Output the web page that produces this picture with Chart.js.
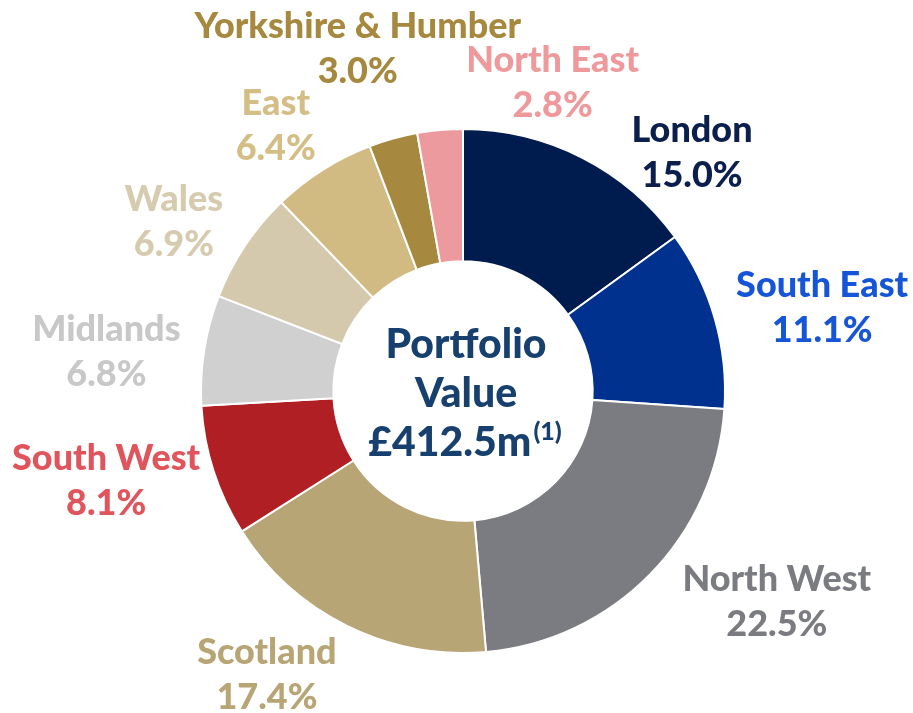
<!DOCTYPE html>
<html>
<head>
<meta charset="utf-8">
<script src="https://cdn.jsdelivr.net/npm/chart.js@4.4.1/dist/chart.umd.min.js"></script>
<style>
  body { margin: 0; background: #fff; }
</style>
</head>
<body>
<canvas id="regionChart" width="913" height="713"></canvas>
<script>
const regions = ["London", "South East", "North West", "Scotland", "South West", "Midlands", "Wales", "East", "Yorkshire & Humber", "North East"];
const shares = [15.0, 11.1, 22.5, 17.4, 8.1, 6.8, 6.9, 6.4, 3.0, 2.8];
const sliceColors = ["#001c4e", "#00318e", "#7b7c81", "#b8a575", "#b01f24", "#d0d0d0", "#d4c9ac", "#d2bb82", "#a6893f", "#ec9a9d"];
const labelColors = ["#0b1f4d", "#1655d8", "#7b7c81", "#b8a575", "#e0545c", "#c8c8c8", "#d6cbae", "#d4be85", "#a6893f", "#ee9a9d"];
const centerLines = ["Portfolio", "Value", "£412.5m"];
const centerNote = "(1)";

// nudges for the outside labels, relative to the slice mid-angle position
const labelNudge = [[67, 79], [16, 15], [59, -40], [-38, -37], [-17, -20], [-4, 16], [8, 28], [4, 36], [-10, 1], [121, 47]];
const FONT = "Lato, 'Noto Sans', sans-serif";

const outsideLabels = {
  id: "outsideLabels",
  afterDraw(chart) {
    const ctx = chart.ctx;
    const meta = chart.getDatasetMeta(0);
    ctx.save();
    ctx.textAlign = "center";
    ctx.textBaseline = "middle";
    ctx.font = "900 36px " + FONT;
    meta.data.forEach((arc, i) => {
      const p = arc.getProps(["x", "y", "startAngle", "endAngle", "outerRadius"], true);
      const mid = (p.startAngle + p.endAngle) / 2;
      const r = p.outerRadius + 95;
      const x = p.x + Math.cos(mid) * r + labelNudge[i][0];
      const y = p.y + Math.sin(mid) * r + labelNudge[i][1];
      ctx.fillStyle = labelColors[i];
      ctx.fillText(regions[i], x, y - 22);
      ctx.fillText(shares[i].toFixed(1) + "%", x, y + 23);
    });

    // centre text
    const c = meta.data[0];
    ctx.fillStyle = "#17406e";
    ctx.font = "900 41px " + FONT;
    ctx.fillText(centerLines[0], c.x + 3, c.y - 46);
    ctx.fillText(centerLines[1], c.x + 3, c.y + 3);
    const w1 = ctx.measureText(centerLines[2]).width;
    ctx.font = "900 25px " + FONT;
    const w2 = ctx.measureText(centerNote).width;
    const left = c.x + 2 - (w1 + w2 + 2) / 2;
    ctx.textAlign = "left";
    ctx.font = "900 41px " + FONT;
    ctx.fillText(centerLines[2], left, c.y + 52);
    ctx.font = "900 25px " + FONT;
    ctx.fillText(centerNote, left + w1 + 2, c.y + 41);
    ctx.restore();
  }
};

const ctx = document.getElementById("regionChart").getContext("2d");
const regionChart = new Chart(ctx, {
  type: "doughnut",
  data: {
    labels: regions,
    datasets: [
      {
        data: shares,
        backgroundColor: sliceColors,
        borderColor: "#ffffff",
        borderWidth: 2,
      },
    ],
  },
  options: {
    responsive: false,
    animation: false,
    cutout: "49.5%",
    layout: {
      padding: { top: 128, bottom: 59, left: 200, right: 187 },
    },
    plugins: {
      legend: { display: false },
      tooltip: { enabled: false },
    },
  },
  plugins: [outsideLabels],
});
</script>
</body>
</html>
